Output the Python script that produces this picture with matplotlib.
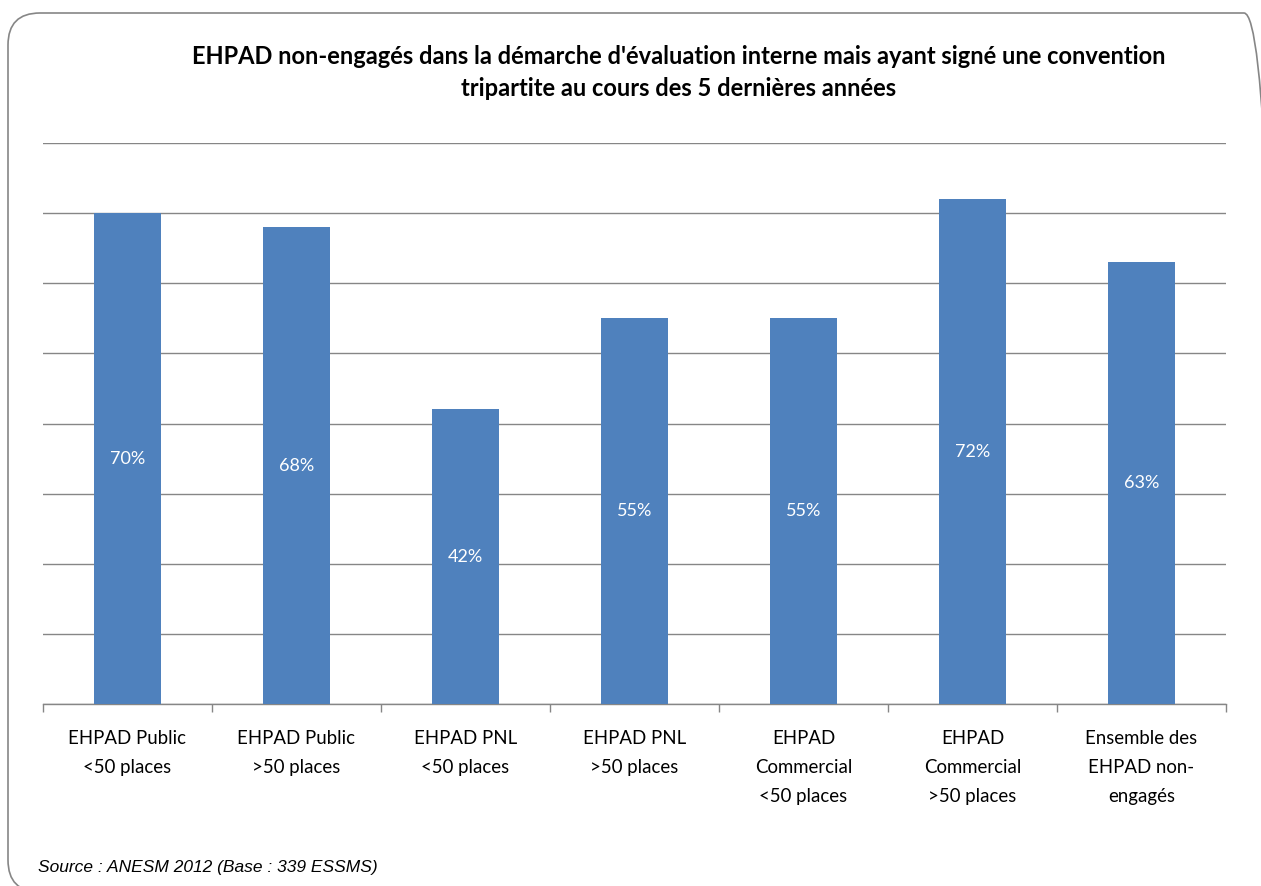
import matplotlib.pyplot as plt
from matplotlib.patches import FancyBboxPatch

categories = [
    'EHPAD Public\n<50 places',
    'EHPAD Public\n>50 places',
    'EHPAD PNL\n<50 places',
    'EHPAD PNL\n>50 places',
    'EHPAD\nCommercial\n<50 places',
    'EHPAD\nCommercial\n>50 places',
    'Ensemble des\nEHPAD non-\nengagés',
]
values = [70, 68, 42, 55, 55, 72, 63]

title = ("EHPAD non-engagés dans la démarche d'évaluation interne mais ayant signé une convention\n"
         "tripartite au cours des 5 dernières années")
source = 'Source : ANESM 2012 (Base : 339 ESSMS)'

plt.rcParams['font.family'] = ['Lato', 'DejaVu Sans']

fig = plt.figure(figsize=(12.61, 8.86), dpi=100)

# rounded frame around the chart (in inches, runs past the right/bottom edge)
frame = FancyBboxPatch((0.08, -0.06), 12.68, 8.79, transform=fig.dpi_scale_trans,
                       boxstyle='round,pad=0,rounding_size=0.32',
                       facecolor='none', edgecolor='#868686', linewidth=1.2)
fig.patches.append(frame)

ax = fig.add_axes([0.0341, 0.2054, 0.9381, 0.6332])
x = range(len(categories))
bars = ax.bar(x, values, width=0.4, color='#4F81BD', zorder=3)

for b, v in zip(bars, values):
    ax.text(b.get_x() + b.get_width() / 2, v / 2, f'{v}%', ha='center', va='center',
            color='white', fontsize=13, zorder=4)

ax.set_xlim(-0.5, len(categories) - 0.5)
ax.set_ylim(0, 80)
ax.set_yticks(range(0, 81, 10))
ax.yaxis.grid(True, color='#868686', linewidth=1)
ax.tick_params(axis='y', left=False, labelleft=False)

ax.set_xticks(list(x))
ax.set_xticklabels(categories, fontsize=13.4, linespacing=1.83)
ax.set_xticks([i - 0.5 for i in range(len(categories) + 1)], minor=True)
ax.tick_params(axis='x', which='major', length=0, pad=19)
ax.tick_params(axis='x', which='minor', length=6, color='#868686', width=1)

for s in ['top', 'right', 'left']:
    ax.spines[s].set_visible(False)
ax.spines['bottom'].set_color('#868686')
ax.spines['bottom'].set_linewidth(1)

fig.text(0.538, 0.918, title, ha='center', va='center', fontsize=17,
         fontweight='bold', linespacing=1.45)
fig.text(0.030, 0.012, source, ha='left', va='bottom', fontsize=12.5,
         style='italic', family=['Liberation Sans'])

fig.savefig('out.png', dpi=100)
